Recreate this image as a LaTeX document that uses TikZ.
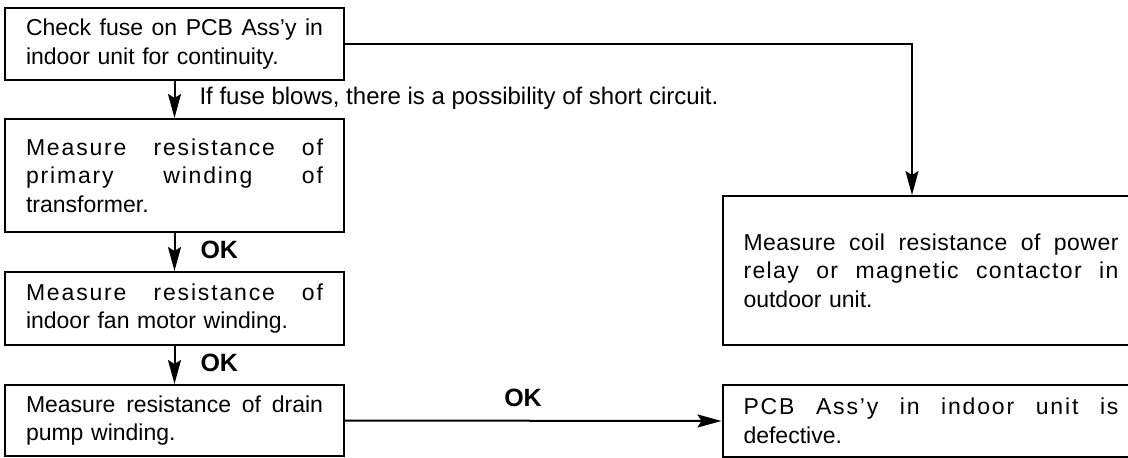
\documentclass[tikz,border=0pt]{standalone}
\usepackage{fontspec}
\setmainfont{Liberation Sans}
\usetikzlibrary{arrows.meta}

% one justified line: width, letter spacing, words
\newcommand\jl[3]{\leavevmode\hbox to #1{\addfontfeature{LetterSpace=#2}\spaceskip=0.25em plus 1fil\relax #3}}

\begin{document}
\begin{tikzpicture}[x=1pt,y=-1pt,
  box/.style={draw,line width=2pt,inner xsep=21pt,inner ysep=0pt,align=left,
    font=\fontsize{23}{28.5}\selectfont},
  lbox/.style={box,text width=297pt},
  rbox/.style={box,text width=375pt},
  arr/.style={line width=2pt,-{Stealth[length=24pt,width=13pt,inset=4pt]}},
  lab/.style={font=\fontsize{24}{29}\selectfont},
  ok/.style={font=\fontsize{25}{29}\selectfont\bfseries}]
\useasboundingbox (0,0) rectangle (1128,458);

% left column
\node[lbox,minimum height=72pt] (b1) at (174.5,44)
  {\jl{297pt}{0}{Check fuse on PCB Ass’y in}\\indoor unit for continuity.};
\node[lbox,minimum height=113pt] (b2) at (174.5,175.5)
  {\jl{297pt}{8}{Measure resistance of}\\\jl{297pt}{8}{primary winding of}\\transformer.};
\node[lbox,minimum height=73pt] (b3) at (174.5,308.5)
  {\jl{297pt}{8}{Measure resistance of}\\indoor fan motor winding.};
\node[lbox,minimum height=71pt] (b4) at (174.5,420.5)
  {\jl{297pt}{0}{Measure resistance of drain}\\pump winding.};

% right column
\node[rbox,minimum height=149pt] (b5) at (931,270.5)
  {\jl{375pt}{2}{Measure coil resistance of power}\\\jl{375pt}{6}{relay or magnetic contactor in}\\outdoor unit.};
\node[rbox,minimum height=72pt] (b6) at (931,421)
  {\jl{375pt}{8}{PCB Ass’y in indoor unit is}\\defective.};

% connectors
\coordinate (turn) at (912,44);
\draw[arr] (b1.east) -- (turn) -- (turn |- b5.north);
\draw[arr] (b1.south) -- (b2.north);
\draw[arr] (b2.south) -- (b3.north);
\draw[arr] (b3.south) -- (b4.north);
\draw[arr] (b4.east) -- (b6.west);

% labels
\node[lab,anchor=base west] (l1) at (196,104) {If fuse blows, there is a possibility of short circuit.};
\node[ok,anchor=base west] (ok1) at (197,258) {OK};
\node[ok,anchor=base west] (ok2) at (197,371) {OK};
\node[ok,anchor=base] (ok3) at (523,406) {OK};
\end{tikzpicture}
\end{document}
